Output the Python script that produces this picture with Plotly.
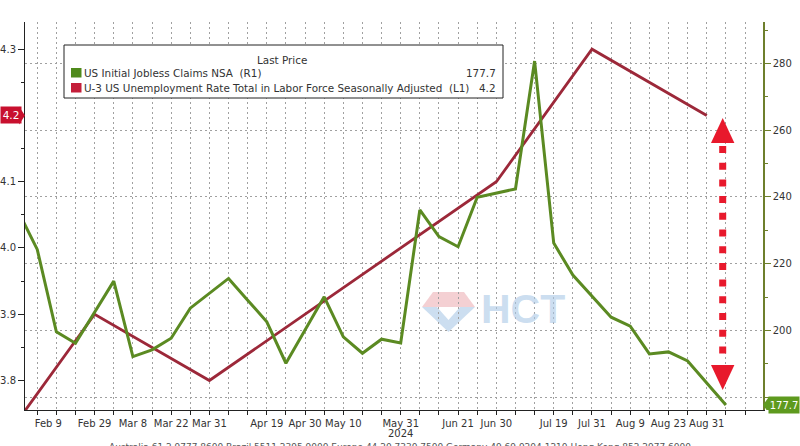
import plotly.graph_objects as go

# ---------------- data ----------------
claims_dates = ["2024-02-02", "2024-02-09", "2024-02-16", "2024-02-23", "2024-03-01",
                "2024-03-08", "2024-03-15", "2024-03-22", "2024-03-29", "2024-04-05",
                "2024-04-12", "2024-04-19", "2024-04-26", "2024-05-03", "2024-05-10",
                "2024-05-17", "2024-05-24", "2024-05-31", "2024-06-07", "2024-06-14",
                "2024-06-21", "2024-06-28", "2024-07-05", "2024-07-12", "2024-07-19",
                "2024-07-26", "2024-08-02", "2024-08-09", "2024-08-16", "2024-08-23",
                "2024-08-30", "2024-09-06"]
claims_values = [235.8, 224.3, 199.6, 196.2, 214.8, 192.2, 194.2, 197.7, 206.7, 215.6,
                 209.1, 202.6, 190.2, 210.1, 198.1, 193.2, 197.4, 196.3, 236.1, 228.1,
                 225.1, 239.9, 242.4, 280.7, 226.2, 216.6, 204.0, 201.3, 193.0, 193.6,
                 190.9, 177.7]

unemp_dates = ["2024-01-31", "2024-02-29", "2024-03-31", "2024-04-30", "2024-05-31",
               "2024-06-30", "2024-07-31", "2024-08-31"]
unemp_values = [3.7, 3.9, 3.8, 3.9, 4.0, 4.1, 4.3, 4.2]

extra_dates = ["2024-09-13"]

tick_labels = {"2024-02-09": "\u00a0" * 7 + "Feb 9", "2024-02-29": "Feb 29",
               "2024-03-08": "Mar 8", "2024-03-22": "Mar 22", "2024-03-31": "Mar 31",
               "2024-04-19": "Apr 19", "2024-04-30": "Apr 30", "2024-05-10": "May 10",
               "2024-05-31": "May 31", "2024-06-21": "Jun 21", "2024-06-30": "Jun 30",
               "2024-07-19": "Jul 19", "2024-07-31": "Jul 31", "2024-08-09": "Aug 9",
               "2024-08-23": "Aug 23", "2024-08-31": "Aug 31"}

left_ticks = [3.8, 3.9, 4.0, 4.1, 4.2, 4.3]
right_ticks = [180, 200, 220, 240, 260, 280]

claims_name = "US Initial Jobless Claims NSA\u00a0\u00a0(R1)"
unemp_name = "U-3 US Unemployment Rate Total in Labor Force Seasonally Adjusted\u00a0\u00a0(L1)"

categories = sorted(set(claims_dates + unemp_dates + extra_dates))
ticktext = [tick_labels.get(c, "") for c in categories]
# labels hidden under the last-value badges
left_text = ["" if abs(v - unemp_values[-1]) < 0.05 else f"{v:.1f}" for v in left_ticks]
right_text = ["" if abs(v - claims_values[-1]) < 10 else str(v) for v in right_ticks]

GREEN = "#5b8a22"
RED = "#9c2839"
FONT = "DejaVu Sans"

# pixel helpers for decorations (plot area 25..763 x 22..410)
L, R, T, B = 25, 763, 22, 410
W, H = R - L, B - T
def px(x):
    return (x - L) / W
def py(y):
    return (B - y) / H

fig = go.Figure()
fig.add_trace(go.Scatter(x=unemp_dates, y=unemp_values, mode="lines", name=unemp_name,
                         line=dict(color=RED, width=2.8), yaxis="y", hoverinfo="skip"))
fig.add_trace(go.Scatter(x=claims_dates, y=claims_values, mode="lines", name=claims_name,
                         line=dict(color=GREEN, width=3), yaxis="y2", hoverinfo="skip"))

shapes = []
annotations = []

# legend box
shapes.append(dict(type="rect", xref="paper", yref="paper", x0=px(64), x1=px(503),
                   y0=py(98), y1=py(45), line=dict(color="#222", width=1),
                   fillcolor="white", layer="above"))
shapes.append(dict(type="rect", xref="paper", yref="paper", x0=px(71), x1=px(81.5),
                   y0=py(77.5), y1=py(68), line=dict(width=0), fillcolor="#4f8a1c", layer="above"))
shapes.append(dict(type="rect", xref="paper", yref="paper", x0=px(71), x1=px(81.5),
                   y0=py(92.5), y1=py(83), line=dict(width=0), fillcolor="#c41e3a", layer="above"))
lf = dict(family=FONT, size=10.4, color="#333")
annotations += [
    dict(text="Last Price", xref="paper", yref="paper", x=px(282), y=py(60),
         showarrow=False, font=lf, xanchor="center", yanchor="middle"),
    dict(text=claims_name, xref="paper", yref="paper", x=px(82), y=py(73),
         showarrow=False, font=lf, xanchor="left", yanchor="middle"),
    dict(text=f"{claims_values[-1]:.1f}", xref="paper", yref="paper", x=px(498), y=py(73),
         showarrow=False, font=lf, xanchor="right", yanchor="middle"),
    dict(text=unemp_name, xref="paper", yref="paper", x=px(82), y=py(88),
         showarrow=False, font=lf, xanchor="left", yanchor="middle"),
    dict(text=f"{unemp_values[-1]:.1f}", xref="paper", yref="paper", x=px(498), y=py(88),
         showarrow=False, font=lf, xanchor="right", yanchor="middle"),
]

# value badges
annotations.append(dict(text=f"{unemp_values[-1]:.1f}", xref="paper", yref="y",
                        x=px(0), y=unemp_values[-1], xanchor="left", yanchor="middle",
                        showarrow=False, bgcolor="#c8102e", width=18, height=14,
                        font=dict(family=FONT, size=10.5, color="white")))
shapes.append(dict(type="path", xref="paper", yref="y", layer="above",
                   path=f"M {px(19)},{unemp_values[-1] + 0.0135} L {px(25)},{unemp_values[-1]} "
                        f"L {px(19)},{unemp_values[-1] - 0.0135} Z",
                   fillcolor="#c8102e", line=dict(width=0)))
annotations.append(dict(text=f"{claims_values[-1]:.1f}", xref="paper", yref="y2",
                        x=px(768), y=claims_values[-1], xanchor="left", yanchor="middle",
                        showarrow=False, bgcolor="#5e9a1e", width=28, height=14,
                        font=dict(family=FONT, size=10, color="white")))
shapes.append(dict(type="path", xref="paper", yref="y2", layer="above",
                   path=f"M {px(769)},{claims_values[-1] + 2.5} L {px(763)},{claims_values[-1]} "
                        f"L {px(769)},{claims_values[-1] - 2.5} Z",
                   fillcolor="#5e9a1e", line=dict(width=0)))

# red dotted double arrow
AR = "#e8192c"
ax_c = px(722.7)
hw = 11.7 / W
shapes.append(dict(type="line", xref="paper", yref="paper", x0=ax_c, x1=ax_c,
                   y0=py(146), y1=py(358), line=dict(color=AR, width=7, dash="7px,9.7px")))
shapes.append(dict(type="path", xref="paper", yref="paper", line=dict(width=0), fillcolor=AR,
                   path=f"M {ax_c},{py(118)} L {ax_c + hw},{py(143)} L {ax_c - hw},{py(143)} Z"))
shapes.append(dict(type="path", xref="paper", yref="paper", line=dict(width=0), fillcolor=AR,
                   path=f"M {ax_c},{py(390)} L {ax_c + hw},{py(365)} L {ax_c - hw},{py(365)} Z"))

# watermark
shapes.append(dict(type="path", xref="paper", yref="paper", line=dict(width=0),
                   fillcolor="rgba(235,170,175,0.55)", layer="below",
                   path=f"M {px(433)},{py(292)} L {px(464)},{py(292)} L {px(475)},{py(307)} "
                        f"L {px(422)},{py(307)} Z"))
shapes.append(dict(type="path", xref="paper", yref="paper", line=dict(width=0),
                   fillcolor="rgba(170,200,230,0.6)", layer="below",
                   path=f"M {px(422)},{py(307)} L {px(475)},{py(307)} L {px(448.5)},{py(332)} Z"))
shapes.append(dict(type="path", xref="paper", yref="paper", line=dict(width=0),
                   fillcolor="white", layer="below",
                   path=f"M {px(437)},{py(307)} L {px(460)},{py(307)} L {px(448.5)},{py(320)} Z"))
annotations.append(dict(text="<b>HCT</b>", xref="paper", yref="paper", x=px(523), y=py(309),
                        showarrow=False, xanchor="center", yanchor="middle",
                        font=dict(family="Liberation Sans", size=41, color="rgba(170,200,230,0.6)")))

# year label and footer
annotations.append(dict(text="2024", xref="x", yref="paper", x="2024-05-31", y=py(426),
                        showarrow=False, xanchor="center", yanchor="top",
                        font=dict(family=FONT, size=10, color="#333")))
annotations.append(dict(text="Australia 61 2 9777 8600 Brazil 5511 2395 9000 Europe 44 20 7330 7500 "
                             "Germany 49 69 9204 1210 Hong Kong 852 2977 6000",
                        xref="paper", yref="paper", x=px(400), y=py(440), showarrow=False,
                        xanchor="center", yanchor="top",
                        font=dict(family=FONT, size=9, color="#555")))

tickfont = dict(family=FONT, size=10, color="#333")
fig.update_layout(
    width=800, height=446,
    margin=dict(l=L, r=800 - R, t=T, b=446 - B, pad=0, autoexpand=False),
    paper_bgcolor="white", plot_bgcolor="white",
    showlegend=False,
    xaxis=dict(type="category", categoryorder="array", categoryarray=categories,
               tickmode="array", tickvals=categories, ticktext=ticktext, automargin=False,
               range=[1.36, 39.94], ticks="outside", ticklen=4, tickcolor="#222",
               showline=True, linecolor="#222", linewidth=1,
               showgrid=True, gridcolor="#a0a0a0", gridwidth=1, griddash="2px,3px",
               tickfont=tickfont, zeroline=False, tickangle=0),
    yaxis=dict(range=[3.7555, 4.341], tickmode="array", tickvals=left_ticks, ticktext=left_text,
               ticks="outside", ticklen=6, tickcolor="#222",
               showline=True, linecolor="#222", linewidth=1, showgrid=False,
               zeroline=False, tickfont=tickfont, automargin=False,
               minor=dict(dtick=0.05, tick0=3.8, ticks="outside", ticklen=3,
                          tickcolor="#222", showgrid=False)),
    yaxis2=dict(range=[176.2, 292.4], overlaying="y", side="right", tickmode="array",
                tickvals=right_ticks, ticktext=right_text,
                ticks="outside", ticklen=6, tickcolor="#6e7f2c",
                showline=True, linecolor="#6e7f2c", linewidth=1.5, automargin=False,
                showgrid=True, gridcolor="#a0a0a0", gridwidth=1, griddash="2px,3px",
                zeroline=False, tickfont=tickfont,
                minor=dict(dtick=10, tick0=180, ticks="outside", ticklen=3,
                           tickcolor="#6e7f2c", showgrid=False)),
    shapes=shapes,
    annotations=annotations,
)

fig.write_html("out.html", config={"displayModeBar": False},
               post_script="document.body.style.margin='0';document.body.style.overflow='hidden';")
